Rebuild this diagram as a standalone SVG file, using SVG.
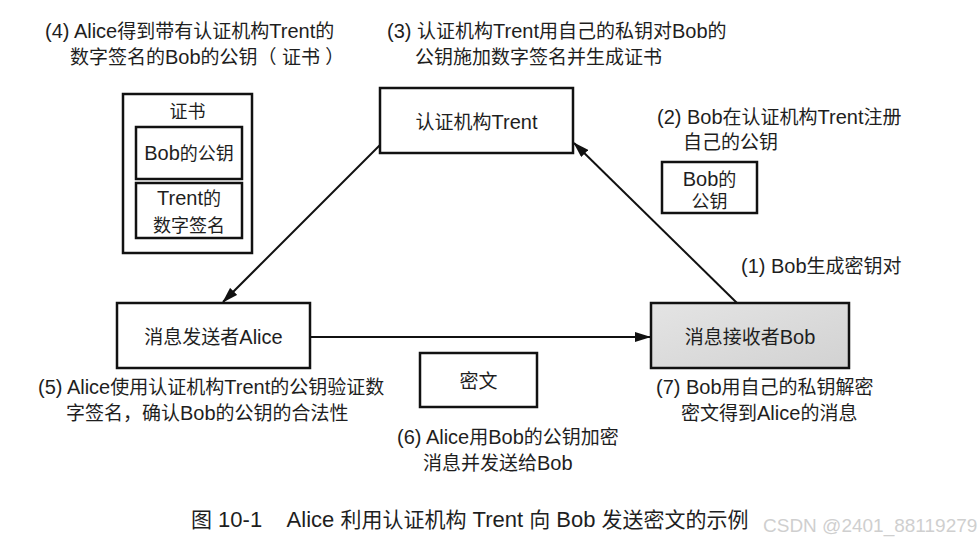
<svg xmlns="http://www.w3.org/2000/svg" width="978" height="542" viewBox="0 0 978 542">
<style>
text{font-family:"Liberation Sans","Noto Sans CJK SC",sans-serif;fill:#1e1e1e;font-size:19px}
.l{font-size:20px}
.s{font-size:18px}
.c{text-anchor:middle}
.cap{font-size:21px}
.cl{font-size:22px}
.wm{font-size:19px;fill:#cfcfcf}
.box{fill:#fff;stroke:#111;stroke-width:2.5}
.ln{stroke:#111;stroke-width:2;fill:none;marker-end:url(#ah)}
</style>
<defs>
<marker id="ah" viewBox="0 0 16 10" refX="15" refY="5" markerWidth="16" markerHeight="10" markerUnits="userSpaceOnUse" orient="auto">
<path d="M0,0 L16,5 L0,10 Z" fill="#111"/>
</marker>
<linearGradient id="gb" x1="0" y1="0" x2="1" y2="1">
<stop offset="0" stop-color="#e4e4e4"/>
<stop offset="1" stop-color="#d2d2d2"/>
</linearGradient>
</defs>
<rect width="978" height="542" fill="#fff"/>
<g id="connectors">
<line class="ln" x1="380" y1="145" x2="223" y2="302"/>
<line class="ln" x1="737" y1="303" x2="574" y2="143"/>
<line class="ln" x1="310" y1="337" x2="650" y2="337"/>
</g>
<g id="trent">
<rect class="box" x="380" y="88" width="193" height="65"/>
<text class="c" x="476.5" y="129">认证机构<tspan class="l">Trent</tspan></text>
</g>
<g id="alice">
<rect class="box" x="117" y="303" width="193" height="65"/>
<text class="c" x="213.5" y="344">消息发送者<tspan class="l">Alice</tspan></text>
</g>
<g id="bob">
<rect class="box" x="651" y="303" width="198" height="65" style="fill:url(#gb)"/>
<text class="c" x="750" y="344">消息接收者<tspan class="l">Bob</tspan></text>
</g>
<g id="cert">
<rect class="box" x="123" y="94" width="129" height="159"/>
<text class="c s" x="187.5" y="118">证书</text>
<rect class="box" x="136" y="127" width="106" height="52"/>
<text class="c s" x="189" y="160"><tspan class="l">Bob</tspan>的公钥</text>
<rect class="box" x="136" y="183" width="106" height="55"/>
<text class="c s" x="189" y="205"><tspan class="l">Trent</tspan>的</text>
<text class="c s" x="189" y="232">数字签名</text>
</g>
<g id="bobkey">
<rect class="box" x="662" y="162" width="95" height="51"/>
<text class="c s" x="709.5" y="186"><tspan class="l">Bob</tspan>的</text>
<text class="c s" x="709.5" y="208">公钥</text>
</g>
<g id="cipher">
<rect class="box" x="420" y="353" width="117" height="54"/>
<text class="c" x="478.5" y="388">密文</text>
</g>
<g id="labels">
<text x="45" y="38"><tspan class="l">(4) Alice</tspan>得到带有认证机构<tspan class="l">Trent</tspan>的</text>
<text x="70" y="64">数字签名的<tspan class="l">Bob</tspan>的公钥（ 证书 ）</text>
<text x="387" y="38"><tspan class="l">(3) </tspan>认证机构<tspan class="l">Trent</tspan>用自己的私钥对<tspan class="l">Bob</tspan>的</text>
<text x="415" y="64">公钥施加数字签名并生成证书</text>
<text x="657" y="124"><tspan class="l">(2) Bob</tspan>在认证机构<tspan class="l">Trent</tspan>注册</text>
<text x="683" y="149">自己的公钥</text>
<text x="741" y="273"><tspan class="l">(1) Bob</tspan>生成密钥对</text>
<text x="38" y="394"><tspan class="l">(5) Alice</tspan>使用认证机构<tspan class="l">Trent</tspan>的公钥验证数</text>
<text x="66" y="420">字签名，确认<tspan class="l">Bob</tspan>的公钥的合法性</text>
<text x="656" y="394"><tspan class="l">(7) Bob</tspan>用自己的私钥解密</text>
<text x="681" y="420">密文得到<tspan class="l">Alice</tspan>的消息</text>
<text x="397" y="444"><tspan class="l">(6) Alice</tspan>用<tspan class="l">Bob</tspan>的公钥加密</text>
<text x="423" y="470">消息并发送给<tspan class="l">Bob</tspan></text>
</g>
<g id="caption">
<text class="cap" x="191" y="527">图<tspan class="cl" xml:space="preserve"> 10-1    Alice </tspan>利用认证机构<tspan class="cl"> Trent </tspan>向<tspan class="cl"> Bob </tspan>发送密文的示例</text>
<text class="wm" x="763" y="532">CSDN @2401_88119279</text>
</g>
</svg>
